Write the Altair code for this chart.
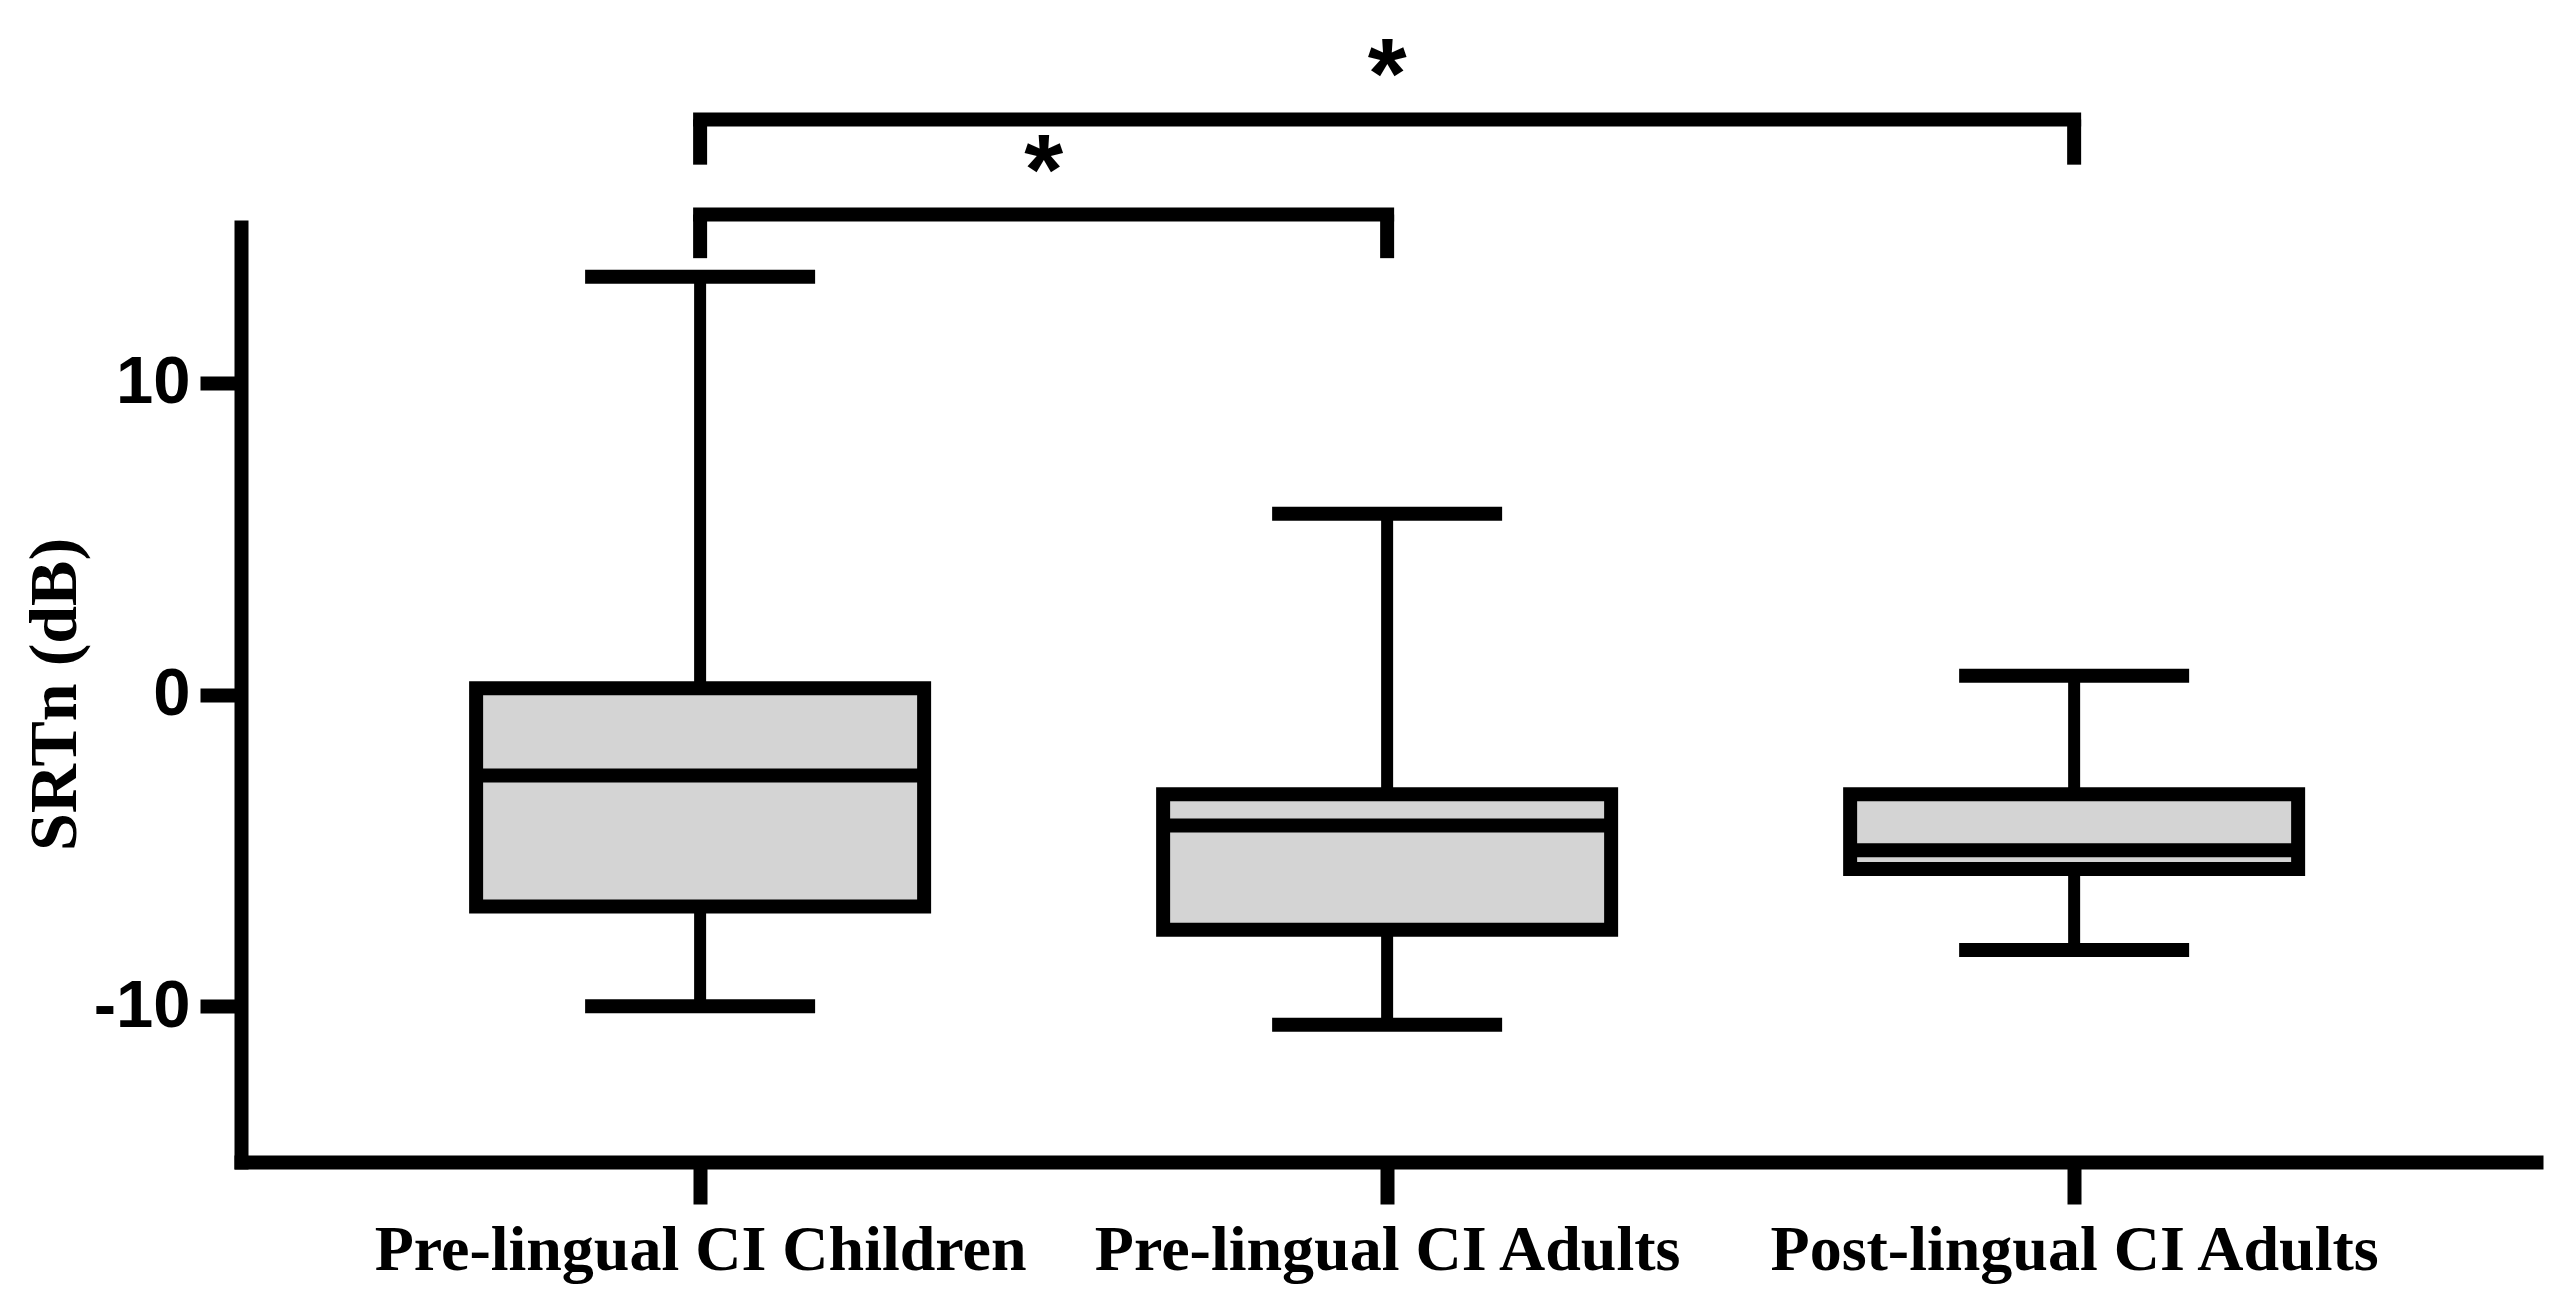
import json
import altair as alt
import pandas as pd

# ---- data ----
groups = ["Pre-lingual CI Children", "Pre-lingual CI Adults", "Post-lingual CI Adults"]
group_pos = [0, 1, 2]
whisker_low = [-10.0, -10.6, -8.2]
q1 = [-6.8, -7.55, -5.6]
median = [-2.6, -4.2, -5.0]
q3 = [0.2, -3.2, -3.2]
whisker_high = [13.4, 5.8, 0.6]

bracket_from = [0, 0]
bracket_to = [1, 2]
bracket_level = [15.4, 18.45]
bracket_leg_end = [14.0, 17.0]
star_level = [17.4, 20.5]
star_text = ["*", "*"]

y_ticks = [-10, 0, 10]

box_df = pd.DataFrame({
    "group": groups, "pos": group_pos, "low": whisker_low, "q1": q1,
    "median": median, "q3": q3, "high": whisker_high,
})
br_df = pd.DataFrame({
    "from": bracket_from, "to": bracket_to, "level": bracket_level,
    "leg_end": bracket_leg_end, "star": star_level, "label": star_text,
})

xs = alt.Scale(domain=[-0.661, 2.665], nice=False, zero=False)
ys = alt.Scale(domain=[-15, 15], nice=False, zero=False)

x_axis = alt.Axis(
    values=group_pos, labelExpr=json.dumps(groups) + "[datum.value]", title=None,
    grid=False, domainWidth=14, domainColor="black", domainCap="square",
    tickWidth=14, tickSize=42, tickColor="black",
    labelFont="Liberation Serif", labelFontWeight="bold", labelFontSize=64,
    labelColor="black", labelPadding=14, labelFlush=False, labelOverlap=False,
    labelLimit=0,
)
y_axis = alt.Axis(
    values=y_ticks, title="SRTn (dB)", grid=False,
    titleFont="Liberation Serif", titleFontWeight="bold", titleFontSize=68,
    titleColor="black", titleX=-186, titleY=467, titleAngle=270,
    titleBaseline="middle", titleAlign="center",
    domainWidth=14, domainColor="black", domainCap="square",
    tickWidth=14, tickSize=41, tickColor="black",
    labelFont="Liberation Sans", labelFontWeight="bold", labelFontSize=67,
    labelColor="black", labelPadding=10, labelExpr="'' + datum.value",
    labelLimit=0,
)

base = alt.Chart(box_df)
X = alt.X("pos:Q", scale=xs, axis=x_axis)

whisk_hi = base.mark_rule(color="black", strokeWidth=12).encode(
    x=X, y=alt.Y("high:Q", scale=ys, axis=y_axis), y2="q3:Q")
whisk_lo = base.mark_rule(color="black", strokeWidth=12).encode(
    x="pos:Q", y=alt.Y("q1:Q", scale=ys), y2="low:Q")
box = base.mark_bar(size=448, fill="#D4D4D4", stroke="black", strokeWidth=14,
                    orient="vertical").encode(
    x="pos:Q", y=alt.Y("q1:Q", scale=ys), y2="q3:Q")
med = base.mark_tick(orient="horizontal", size=448, thickness=14, color="black",
                     opacity=1).encode(x="pos:Q", y=alt.Y("median:Q", scale=ys))
cap_hi = base.mark_tick(orient="horizontal", size=230, thickness=14, color="black",
                        opacity=1).encode(x="pos:Q", y=alt.Y("high:Q", scale=ys))
cap_lo = base.mark_tick(orient="horizontal", size=230, thickness=14, color="black",
                        opacity=1).encode(x="pos:Q", y=alt.Y("low:Q", scale=ys))

bb = alt.Chart(br_df)
br_h = bb.mark_rule(color="black", strokeWidth=14, strokeCap="square").encode(
    x="from:Q", x2="to:Q", y=alt.Y("level:Q", scale=ys))
br_l = bb.mark_rule(color="black", strokeWidth=14).encode(
    x="from:Q", y=alt.Y("leg_end:Q", scale=ys), y2="level:Q")
br_r = bb.mark_rule(color="black", strokeWidth=14).encode(
    x="to:Q", y=alt.Y("leg_end:Q", scale=ys), y2="level:Q")
stars = bb.transform_calculate(mid="(datum['from'] + datum['to']) / 2").mark_text(
    font="Liberation Sans", fontWeight="bold", fontSize=100, color="black",
    baseline="middle", align="center", dy=22).encode(
    x="mid:Q", y=alt.Y("star:Q", scale=ys), text="label:N")

chart = alt.layer(whisk_hi, whisk_lo, box, med, cap_hi, cap_lo,
                  br_h, br_l, br_r, stars).properties(
    width=2295, height=935,
    autosize=alt.AutoSizeParams(type="none"),
    padding={"left": 233, "top": 219, "right": 20, "bottom": 130},
    background="white",
).configure_view(stroke=None)

chart.save("out.html", embed_options={"renderer": "svg", "actions": False})
